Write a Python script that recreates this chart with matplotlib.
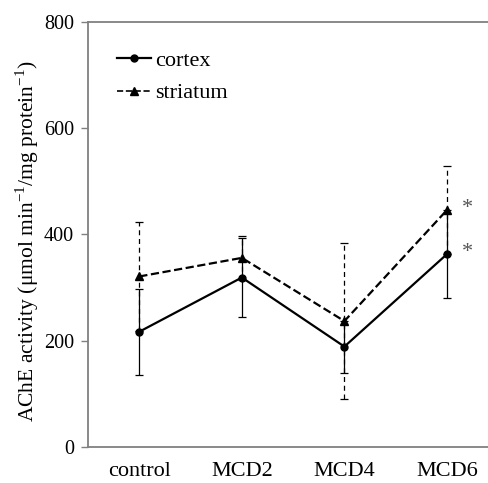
import matplotlib.pyplot as plt
from matplotlib.lines import Line2D

plt.rcParams['font.family'] = ['Liberation Serif', 'DejaVu Serif']

# AChE activity by group
groups = ['control', 'MCD2', 'MCD4', 'MCD6']
cortex = [217, 319, 189, 363]
cortex_err = [81, 75, 49, 83]
striatum = [321, 356, 237, 446]
striatum_err = [102, 41, 147, 82]
significant = [False, False, False, True]

fig = plt.figure(figsize=(4.89, 4.83), dpi=100)
ax = fig.add_axes([0.18, 0.0745, 0.82, 0.88])

x = list(range(len(groups)))

ax.errorbar(x, cortex, yerr=cortex_err, color='black', lw=1.6,
            marker='o', ms=5, elinewidth=0.9, capsize=3, capthick=0.9)
eb2 = ax.errorbar(x, striatum, yerr=striatum_err, color='black', lw=1.6,
                  ls='--', marker='^', ms=5.5, elinewidth=0.9, capsize=3,
                  capthick=0.9)
eb2[-1][0].set_linestyle((0, (4, 3)))

for i in range(len(groups)):
    if significant[i]:
        ax.annotate('*', (x[i], cortex[i]), xytext=(11, 1), textcoords='offset points',
                    fontsize=16, color='#555555', va='center')
        ax.annotate('*', (x[i], striatum[i]), xytext=(11, 1), textcoords='offset points',
                    fontsize=16, color='#555555', va='center')

ax.set_xlim(-0.5, 3.41)
ax.set_ylim(0, 800)
ax.set_yticks([0, 200, 400, 600, 800])
ax.set_xticks(x)
ax.set_xticklabels(groups)
ax.tick_params(axis='x', length=0, pad=11, labelsize=16)
ax.tick_params(axis='y', length=5, width=1, color='#808080', labelsize=14.5, pad=5)

for s in ['top', 'left', 'bottom']:
    ax.spines[s].set_color('#808080')
    ax.spines[s].set_linewidth(1.3)
ax.spines['right'].set_visible(False)

ax.set_ylabel('AChE activity (μmol min$^{\\mathregular{-1}}$/mg protein$^{\\mathregular{-1}}$)',
              fontsize=15.5)
ax.yaxis.set_label_coords(-0.118, 0.485)

handles = [Line2D([], [], color='black', lw=1.6, marker='o', ms=5),
           Line2D([], [], color='black', lw=1.2, ls='--', marker='^', ms=5.5)]
ax.legend(handles, ['cortex', 'striatum'], loc='upper left', bbox_to_anchor=(0.05, 0.955),
          frameon=False, fontsize=16, handlelength=1.55, handletextpad=0.15,
          labelspacing=0.55, borderaxespad=0)

fig.savefig('out.png', dpi=100)
